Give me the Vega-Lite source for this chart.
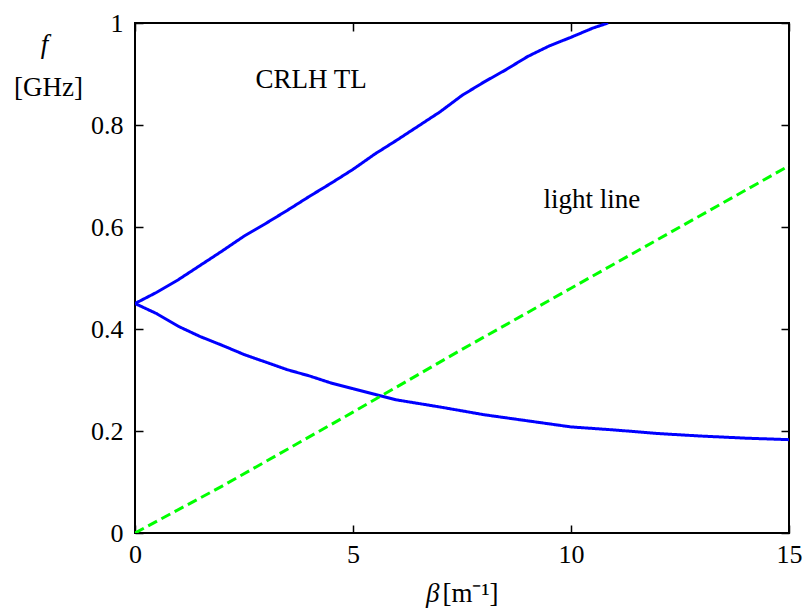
{
  "$schema": "https://vega.github.io/schema/vega-lite/v6.json",
  "width": 654,
  "height": 510,
  "autosize": {"type": "none"},
  "padding": {"left": 135, "top": 23, "right": 14, "bottom": 76},
  "background": "white",
  "config": {
    "view": {"stroke": "black", "strokeWidth": 2},
    "font": "Times New Roman, Liberation Serif, serif",
    "axis": {
      "grid": false,
      "domain": false,
      "tickColor": "black",
      "tickWidth": 1.5,
      "tickSize": -8,
      "labelFlush": false,
      "labelFont": "Times New Roman, Liberation Serif, serif",
      "labelFontSize": 26,
      "labelColor": "black",
      "titleFont": "Times New Roman, Liberation Serif, serif",
      "titleFontSize": 27,
      "titleFontWeight": "normal",
      "titleColor": "black"
    }
  },
  "datasets": {
    "curves": [
      {"beta": 0, "f": 0.45, "curve": "upper", "kind": "CRLH"},
      {"beta": 0.5, "f": 0.472, "curve": "upper", "kind": "CRLH"},
      {"beta": 1, "f": 0.497, "curve": "upper", "kind": "CRLH"},
      {"beta": 1.5, "f": 0.525, "curve": "upper", "kind": "CRLH"},
      {"beta": 2, "f": 0.553, "curve": "upper", "kind": "CRLH"},
      {"beta": 2.5, "f": 0.582, "curve": "upper", "kind": "CRLH"},
      {"beta": 3, "f": 0.607, "curve": "upper", "kind": "CRLH"},
      {"beta": 3.5, "f": 0.633, "curve": "upper", "kind": "CRLH"},
      {"beta": 4, "f": 0.66, "curve": "upper", "kind": "CRLH"},
      {"beta": 4.5, "f": 0.686, "curve": "upper", "kind": "CRLH"},
      {"beta": 5, "f": 0.713, "curve": "upper", "kind": "CRLH"},
      {"beta": 5.5, "f": 0.743, "curve": "upper", "kind": "CRLH"},
      {"beta": 6, "f": 0.77, "curve": "upper", "kind": "CRLH"},
      {"beta": 6.5, "f": 0.798, "curve": "upper", "kind": "CRLH"},
      {"beta": 7, "f": 0.826, "curve": "upper", "kind": "CRLH"},
      {"beta": 7.5, "f": 0.858, "curve": "upper", "kind": "CRLH"},
      {"beta": 8, "f": 0.884, "curve": "upper", "kind": "CRLH"},
      {"beta": 8.5, "f": 0.908, "curve": "upper", "kind": "CRLH"},
      {"beta": 9, "f": 0.934, "curve": "upper", "kind": "CRLH"},
      {"beta": 9.5, "f": 0.955, "curve": "upper", "kind": "CRLH"},
      {"beta": 10, "f": 0.972, "curve": "upper", "kind": "CRLH"},
      {"beta": 10.5, "f": 0.99, "curve": "upper", "kind": "CRLH"},
      {"beta": 10.85, "f": 1.0, "curve": "upper", "kind": "CRLH"},
      {"beta": 0, "f": 0.45, "curve": "lower", "kind": "CRLH"},
      {"beta": 0.5, "f": 0.43, "curve": "lower", "kind": "CRLH"},
      {"beta": 1, "f": 0.405, "curve": "lower", "kind": "CRLH"},
      {"beta": 1.5, "f": 0.385, "curve": "lower", "kind": "CRLH"},
      {"beta": 2, "f": 0.368, "curve": "lower", "kind": "CRLH"},
      {"beta": 2.5, "f": 0.35, "curve": "lower", "kind": "CRLH"},
      {"beta": 3, "f": 0.335, "curve": "lower", "kind": "CRLH"},
      {"beta": 3.5, "f": 0.32, "curve": "lower", "kind": "CRLH"},
      {"beta": 4, "f": 0.308, "curve": "lower", "kind": "CRLH"},
      {"beta": 4.5, "f": 0.294, "curve": "lower", "kind": "CRLH"},
      {"beta": 5, "f": 0.283, "curve": "lower", "kind": "CRLH"},
      {"beta": 5.5, "f": 0.272, "curve": "lower", "kind": "CRLH"},
      {"beta": 6, "f": 0.261, "curve": "lower", "kind": "CRLH"},
      {"beta": 7, "f": 0.247, "curve": "lower", "kind": "CRLH"},
      {"beta": 8, "f": 0.232, "curve": "lower", "kind": "CRLH"},
      {"beta": 9, "f": 0.22, "curve": "lower", "kind": "CRLH"},
      {"beta": 10, "f": 0.208, "curve": "lower", "kind": "CRLH"},
      {"beta": 11, "f": 0.202, "curve": "lower", "kind": "CRLH"},
      {"beta": 12, "f": 0.195, "curve": "lower", "kind": "CRLH"},
      {"beta": 13, "f": 0.19, "curve": "lower", "kind": "CRLH"},
      {"beta": 14, "f": 0.186, "curve": "lower", "kind": "CRLH"},
      {"beta": 15, "f": 0.183, "curve": "lower", "kind": "CRLH"},
      {"beta": 0, "f": 0, "curve": "light", "kind": "light"},
      {"beta": 2, "f": 0.092, "curve": "light", "kind": "light"},
      {"beta": 5, "f": 0.237, "curve": "light", "kind": "light"},
      {"beta": 7.5, "f": 0.36, "curve": "light", "kind": "light"},
      {"beta": 10, "f": 0.48, "curve": "light", "kind": "light"},
      {"beta": 12.5, "f": 0.6, "curve": "light", "kind": "light"},
      {"beta": 15, "f": 0.72, "curve": "light", "kind": "light"}
    ],
    "notes": [
      {"beta": 4.04, "f": 0.873, "label": "CRLH TL"},
      {"beta": 10.48, "f": 0.637, "label": "light line"}
    ]
  },
  "layer": [
    {
      "data": {"name": "curves"},
      "mark": {"type": "line", "strokeWidth": 3, "clip": true},
      "encoding": {
        "x": {
          "field": "beta", "type": "quantitative",
          "scale": {"domain": [0, 15], "nice": false, "zero": false},
          "axis": {
            "orient": "bottom",
            "values": [0, 5, 10, 15],
            "format": "~g",
            "labelPadding": 16,
            "title": "[m⁻¹]",
            "titleAlign": "left",
            "titleBaseline": "alphabetic",
            "titleX": 307,
            "titleY": 68
          }
        },
        "y": {
          "field": "f", "type": "quantitative",
          "scale": {"domain": [0, 1], "nice": false},
          "axis": {
            "orient": "left",
            "values": [0, 0.2, 0.4, 0.6, 0.8, 1],
            "format": "~g",
            "labelPadding": 20,
            "title": "[GHz]",
            "titleAngle": 0,
            "titleAlign": "center",
            "titleBaseline": "alphabetic",
            "titleX": -87,
            "titleY": 72
          }
        },
        "detail": {"field": "curve", "type": "nominal"},
        "color": {
          "field": "kind", "type": "nominal",
          "scale": {"domain": ["CRLH", "light"], "range": ["#0000ff", "#00ff00"]},
          "legend": null
        },
        "strokeDash": {
          "field": "kind", "type": "nominal",
          "scale": {"domain": ["CRLH", "light"], "range": [[1, 0], [10, 5]]},
          "legend": null
        }
      }
    },
    {
      "data": {"name": "notes"},
      "mark": {"type": "text", "font": "Times New Roman, Liberation Serif, serif", "fontSize": 27, "align": "center", "baseline": "alphabetic", "color": "black"},
      "encoding": {
        "x": {
          "field": "beta", "type": "quantitative",
          "axis": {
            "orient": "top",
            "values": [0, 5, 10, 15],
            "labels": false,
            "title": "β",
            "titleFontStyle": "italic",
            "titleAlign": "right",
            "titleBaseline": "alphabetic",
            "titleX": 304,
            "titleY": 578
          }
        },
        "y": {
          "field": "f", "type": "quantitative",
          "axis": {
            "orient": "right",
            "values": [0, 0.2, 0.4, 0.6, 0.8, 1],
            "labels": false,
            "title": "f",
            "titleFontStyle": "italic",
            "titleAngle": 0,
            "titleAlign": "center",
            "titleBaseline": "alphabetic",
            "titleX": -745,
            "titleY": 29
          }
        },
        "text": {"field": "label"}
      }
    }
  ]
}
